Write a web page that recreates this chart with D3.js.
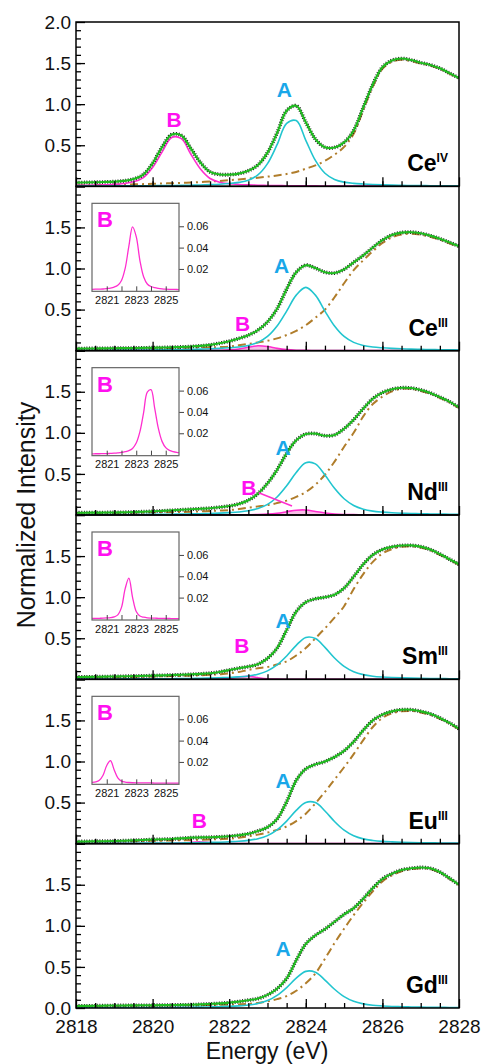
<!DOCTYPE html>
<html>
<head>
<meta charset="utf-8">
<script src="https://cdn.jsdelivr.net/npm/d3@7/dist/d3.min.js"></script>
<style>
  body { margin: 0; background: #fff; }
  svg { display: block; font-family: "Liberation Sans", Arial, sans-serif; }
</style>
</head>
<body>
<svg id="chart" width="485" height="1064"></svg>
<script>
// energy grid (eV)
const energy = [2818, 2818.25, 2818.5, 2818.75, 2819, 2819.25, 2819.5, 2819.75, 2820, 2820.25,
  2820.5, 2820.75, 2821, 2821.25, 2821.5, 2821.75, 2822, 2822.25, 2822.5, 2822.75,
  2823, 2823.25, 2823.5, 2823.75, 2824, 2824.25, 2824.5, 2824.75, 2825, 2825.25,
  2825.5, 2825.75, 2826, 2826.25, 2826.5, 2826.75, 2827, 2827.25, 2827.5, 2827.75, 2828]

const ions = ["Ce", "Ce", "Nd", "Sm", "Eu", "Gd"]
const charges = ["IV", "III", "III", "III", "III", "III"]

// measured spectra
const specCe4 = [0.045,0.047,0.050,0.053,0.057,0.066,0.088,0.140,0.280,0.480,0.630,0.620,0.460,0.290,0.175,0.145,0.142,0.155,0.190,0.260,0.410,0.650,0.920,0.980,0.780,0.575,0.475,0.473,0.535,0.680,0.960,1.240,1.450,1.532,1.555,1.537,1.505,1.478,1.437,1.378,1.318]
const specCe3 = [0.025,0.026,0.027,0.028,0.030,0.031,0.032,0.034,0.036,0.038,0.041,0.045,0.050,0.058,0.070,0.090,0.115,0.148,0.188,0.250,0.350,0.510,0.750,0.955,1.040,1.005,0.955,0.945,0.990,1.075,1.160,1.255,1.345,1.408,1.437,1.442,1.428,1.400,1.362,1.318,1.272]
const specNd3 = [0.028,0.028,0.029,0.030,0.031,0.033,0.036,0.040,0.045,0.050,0.056,0.063,0.070,0.076,0.083,0.095,0.110,0.135,0.180,0.260,0.385,0.550,0.750,0.910,0.985,0.990,0.965,0.975,1.050,1.160,1.295,1.415,1.490,1.530,1.548,1.545,1.522,1.485,1.435,1.380,1.310]
const specSm3 = [0.028,0.030,0.031,0.033,0.035,0.037,0.039,0.042,0.045,0.048,0.052,0.056,0.060,0.066,0.075,0.090,0.112,0.135,0.155,0.185,0.255,0.380,0.600,0.825,0.940,0.980,1.000,1.030,1.110,1.250,1.400,1.515,1.580,1.612,1.628,1.630,1.615,1.580,1.525,1.462,1.400]
const specEu3 = [0.025,0.027,0.029,0.030,0.032,0.036,0.040,0.045,0.050,0.053,0.057,0.064,0.073,0.076,0.078,0.083,0.090,0.102,0.120,0.155,0.200,0.300,0.510,0.770,0.910,0.965,1.000,1.055,1.130,1.240,1.380,1.500,1.570,1.610,1.630,1.630,1.610,1.580,1.530,1.470,1.400]
const specGd3 = [0.025,0.026,0.027,0.029,0.030,0.031,0.032,0.033,0.033,0.035,0.036,0.038,0.040,0.044,0.050,0.056,0.065,0.078,0.095,0.115,0.160,0.235,0.360,0.580,0.780,0.885,0.960,1.050,1.140,1.215,1.330,1.460,1.570,1.635,1.680,1.700,1.710,1.700,1.655,1.580,1.500]

// fitted peak A
const peakACe4 = [0.003,0.003,0.004,0.004,0.005,0.005,0.006,0.007,0.008,0.009,0.010,0.012,0.014,0.017,0.021,0.026,0.034,0.048,0.075,0.139,0.276,0.507,0.765,0.800,0.560,0.315,0.159,0.084,0.051,0.036,0.028,0.022,0.018,0.015,0.012,0.010,0.009,0.008,0.007,0.006,0.005]
const peakACe3 = [0.004,0.0045,0.005,0.0055,0.006,0.0065,0.007,0.008,0.009,0.010,0.012,0.014,0.016,0.019,0.023,0.028,0.035,0.045,0.064,0.101,0.173,0.300,0.482,0.676,0.770,0.676,0.482,0.300,0.173,0.101,0.064,0.045,0.035,0.028,0.023,0.019,0.016,0.014,0.012,0.010,0.009]
const peakANd3 = [0.004,0.004,0.004,0.005,0.005,0.006,0.006,0.007,0.008,0.009,0.010,0.012,0.014,0.016,0.019,0.023,0.029,0.037,0.051,0.078,0.129,0.219,0.356,0.518,0.637,0.622,0.486,0.325,0.198,0.116,0.071,0.047,0.035,0.027,0.022,0.019,0.016,0.013,0.011,0.010,0.009]
const peakASm3 = [0.003,0.003,0.004,0.004,0.004,0.005,0.005,0.006,0.006,0.007,0.008,0.009,0.011,0.013,0.015,0.019,0.023,0.030,0.041,0.062,0.103,0.175,0.284,0.414,0.510,0.497,0.389,0.260,0.158,0.093,0.057,0.038,0.028,0.022,0.018,0.015,0.012,0.011,0.009,0.008,0.007]
const peakAEu3 = [0.003,0.003,0.003,0.004,0.004,0.005,0.005,0.006,0.006,0.007,0.008,0.009,0.011,0.013,0.015,0.018,0.023,0.029,0.040,0.060,0.098,0.168,0.275,0.405,0.502,0.500,0.398,0.270,0.164,0.096,0.058,0.039,0.028,0.022,0.018,0.015,0.012,0.011,0.009,0.008,0.007]
const peakAGd3 = [0.003,0.003,0.003,0.003,0.004,0.004,0.004,0.005,0.006,0.006,0.007,0.008,0.010,0.011,0.013,0.016,0.020,0.026,0.036,0.054,0.090,0.154,0.249,0.363,0.446,0.435,0.340,0.228,0.138,0.081,0.050,0.033,0.025,0.019,0.016,0.013,0.011,0.009,0.008,0.007,0.006]

// fitted peak B (pre-edge)
const peakBCe4 = [0.010,0.012,0.015,0.019,0.024,0.034,0.055,0.104,0.230,0.420,0.595,0.580,0.390,0.210,0.095,0.050,0.032,0.023,0.018,0.014,0.011,0.009,0.008,0.007,0.006,0.005,0.004,0.004,0.004,0.003,0.003,0.003,0.002,0.002,0.002,0.002,0.002,0.002,0.002,0.002,0.002]
const peakBCe3 = [0.0004,0.0004,0.0005,0.0005,0.0006,0.0006,0.0007,0.0008,0.0009,0.0010,0.0011,0.0012,0.0016,0.0021,0.0030,0.0047,0.0092,0.0206,0.0413,0.0594,0.0503,0.0279,0.0127,0.0059,0.0035,0.0024,0.0018,0.0014,0.0011,0.0009,0.0008,0.0007,0.0006,0.0005,0.0005,0.0004,0.0004,0.0004,0.0003,0.0003,0.0003]
const peakBNd3 = [0.0004,0.0004,0.0005,0.0005,0.0005,0.0006,0.0006,0.0007,0.0007,0.0008,0.0008,0.0009,0.0009,0.0011,0.0013,0.0016,0.0020,0.0027,0.0037,0.0058,0.0108,0.0215,0.0394,0.0585,0.0609,0.0436,0.0245,0.0124,0.0065,0.0040,0.0028,0.0021,0.0017,0.0014,0.0011,0.0010,0.0009,0.0008,0.0007,0.0006,0.0006]
const peakBSm3 = [0.0002,0.0002,0.0002,0.0002,0.0003,0.0003,0.0003,0.0003,0.0004,0.0005,0.0006,0.0007,0.0009,0.0012,0.0019,0.0038,0.0108,0.0284,0.0382,0.0203,0.0069,0.0027,0.0016,0.0010,0.0008,0.0007,0.0006,0.0005,0.0004,0.0004,0.0003,0.0003,0.0003,0.0002,0.0002,0.0002,0.0002,0.0002,0.0002,0.0002,0.0002]
const peakBEu3 = [0.0002,0.0002,0.0003,0.0003,0.0004,0.0004,0.0005,0.0006,0.0008,0.0013,0.0028,0.0075,0.0167,0.0212,0.0127,0.0050,0.0020,0.0011,0.0007,0.0005,0.0004,0.0004,0.0003,0.0003,0.0003,0.0002,0.0002,0.0002,0.0002,0.0002,0.0002,0.0002,0.0002,0.0002,0.0002,0.0002,0.0002,0.0002,0.0002,0.0002,0.0002]

// arctangent edge step
const stepCe4 = [0.010,0.012,0.014,0.016,0.018,0.021,0.024,0.027,0.030,0.034,0.038,0.042,0.046,0.052,0.058,0.066,0.075,0.084,0.094,0.105,0.118,0.132,0.150,0.175,0.215,0.255,0.310,0.385,0.480,0.640,0.930,1.215,1.430,1.515,1.540,1.525,1.495,1.470,1.430,1.372,1.313]
const stepCe3 = [0.018,0.019,0.020,0.021,0.022,0.023,0.024,0.026,0.028,0.029,0.031,0.033,0.035,0.037,0.040,0.044,0.050,0.065,0.082,0.100,0.120,0.150,0.190,0.240,0.310,0.400,0.500,0.650,0.820,0.980,1.100,1.210,1.310,1.380,1.414,1.423,1.412,1.386,1.350,1.307,1.263]
const stepNd3 = [0.020,0.021,0.022,0.023,0.024,0.025,0.026,0.028,0.030,0.032,0.034,0.037,0.040,0.044,0.048,0.054,0.060,0.072,0.090,0.105,0.120,0.145,0.175,0.220,0.280,0.370,0.490,0.650,0.830,1.000,1.200,1.350,1.440,1.505,1.535,1.535,1.510,1.475,1.425,1.372,1.302]
const stepSm3 = [0.020,0.021,0.022,0.023,0.025,0.027,0.029,0.032,0.035,0.037,0.040,0.042,0.045,0.050,0.055,0.062,0.072,0.090,0.115,0.135,0.150,0.180,0.220,0.290,0.380,0.500,0.620,0.750,0.890,1.100,1.280,1.430,1.530,1.585,1.612,1.618,1.605,1.570,1.515,1.454,1.393]
const stepEu3 = [0.020,0.021,0.022,0.023,0.025,0.027,0.029,0.032,0.035,0.037,0.040,0.042,0.045,0.048,0.051,0.055,0.060,0.073,0.090,0.110,0.135,0.168,0.210,0.275,0.365,0.490,0.630,0.780,0.930,1.090,1.260,1.420,1.530,1.585,1.610,1.615,1.597,1.568,1.520,1.462,1.394]
const stepGd3 = [0.020,0.021,0.022,0.023,0.024,0.025,0.026,0.027,0.028,0.029,0.030,0.032,0.034,0.035,0.036,0.038,0.040,0.044,0.050,0.062,0.080,0.108,0.145,0.210,0.300,0.420,0.600,0.790,0.965,1.130,1.280,1.420,1.540,1.615,1.665,1.688,1.700,1.691,1.647,1.573,1.494]

// label anchors (energy, intensity)
const labelA = [[2823.44, 1.18], [2823.37, 1.04], [2823.41, 0.82], [2823.41, 0.72], [2823.41, 0.77], [2823.41, 0.73]]
const labelB = [[2820.56, 0.82], [2822.35, 0.33], [2822.51, 0.34], [2822.33, 0.41], [2821.22, 0.28], null]
const pointerNd = [[2822.77, 0.27], [2823.64, 0.11]]

const spectra = [specCe4, specCe3, specNd3, specSm3, specEu3, specGd3]
const peaksA = [peakACe4, peakACe3, peakANd3, peakASm3, peakAEu3, peakAGd3]
const peaksB = [peakBCe4, peakBCe3, peakBNd3, peakBSm3, peakBEu3, null]
const steps = [stepCe4, stepCe3, stepNd3, stepSm3, stepEu3, stepGd3]

const plotLeft = 76, plotRight = 459, plotTop = 22, plotBottom = 1008
const ph = (plotBottom - plotTop) / 6
const green = "#1fbb1f", cyan = "#22c5cf", magenta = "#ff2ecf", brown = "#b07d2b"
const blueLabel = "#19a7e9", pinkLabel = "#ff10f0"

const svg = d3.select("#chart")
const x = d3.scaleLinear().domain([2818, 2828]).range([plotLeft, plotRight])

const styleAxis = (g, size) => {
  g.select(".domain").remove()
  g.selectAll("line").attr("stroke", "#000").attr("stroke-width", 1.3)
  g.selectAll("text").attr("font-family", "Liberation Sans, Arial, sans-serif")
    .attr("font-size", size).attr("fill", "#111")
}

spectra.forEach((spec, i) => {
  const yTop = plotTop + i * ph
  const yBot = yTop + ph
  const y = d3.scaleLinear().domain([0, 2]).range([yBot, yTop])
  const g = svg.append("g")

  svg.append("clipPath").attr("id", "clip" + i)
    .append("rect").attr("x", plotLeft).attr("y", yTop).attr("width", plotRight - plotLeft).attr("height", ph)
  const plot = g.append("g").attr("clip-path", `url(#clip${i})`)

  const line = d3.line().x((d, j) => x(energy[j])).y(d => y(d)).curve(d3.curveCatmullRom.alpha(0.5))
  const area = d3.area().x((d, j) => x(energy[j])).y0(y(0)).y1(d => y(d)).curve(d3.curveCatmullRom.alpha(0.5))

  const pb = peaksB[i]
  if (pb && i > 0) {
    plot.append("path").attr("d", area(pb)).attr("fill", "#f9bde8")
  }
  plot.append("path").attr("d", line(steps[i]))
    .attr("fill", "none").attr("stroke", brown).attr("stroke-width", 2)
    .attr("stroke-dasharray", "8,4,2,4")
  if (pb) {
    plot.append("path").attr("d", line(pb))
      .attr("fill", "none").attr("stroke", magenta).attr("stroke-width", 1.6)
  }
  plot.append("path").attr("d", line(peaksA[i]))
    .attr("fill", "none").attr("stroke", cyan).attr("stroke-width", 1.6)
  // measured points (dense dots) and fit
  plot.append("path").attr("d", line(spec))
    .attr("fill", "none").attr("stroke", "#222").attr("stroke-width", 3.8)
    .attr("stroke-dasharray", "1,1.6")
  plot.append("path").attr("d", line(spec))
    .attr("fill", "none").attr("stroke", green).attr("stroke-width", 2.1)

  // x ticks (inside)
  g.append("g").attr("transform", `translate(0,${yBot})`)
    .call(d3.axisBottom(x).tickValues(d3.range(2818.5, 2828, 0.5)).tickSizeInner(-5).tickSizeOuter(0).tickFormat(""))
    .call(a => styleAxis(a, 19))
  g.append("g").attr("transform", `translate(0,${yBot})`)
    .call(d3.axisBottom(x).tickValues([2818, 2820, 2822, 2824, 2826, 2828]).tickSizeInner(-9).tickSizeOuter(0)
      .tickPadding(12).tickFormat(d => i === 5 ? d : ""))
    .call(a => styleAxis(a, 19))

  // y ticks (inside)
  const shown = i === 0 ? [0.5, 1, 1.5, 2] : i === 5 ? [0, 0.5, 1, 1.5] : [0.5, 1, 1.5]
  g.append("g").attr("transform", `translate(${plotLeft},0)`)
    .call(d3.axisLeft(y).tickValues(d3.range(0.1, 2, 0.1)).tickSizeInner(-5).tickSizeOuter(0).tickFormat(""))
    .call(a => styleAxis(a, 19))
  g.append("g").attr("transform", `translate(${plotLeft},0)`)
    .call(d3.axisLeft(y).tickValues([0, 0.5, 1, 1.5, 2]).tickSizeInner(-9).tickSizeOuter(0).tickPadding(5)
      .tickFormat(d => shown.includes(d) ? d3.format(".1f")(d) : ""))
    .call(a => styleAxis(a, 19))

  // frame
  g.append("rect").attr("x", plotLeft).attr("y", yTop).attr("width", plotRight - plotLeft).attr("height", ph)
    .attr("fill", "none").attr("stroke", "#000").attr("stroke-width", 1.5)

  // labels
  const [ea, va] = labelA[i]
  g.append("text").attr("x", x(ea)).attr("y", y(va)).attr("dy", "0.36em")
    .attr("text-anchor", "middle").attr("font-weight", "bold").attr("font-size", 21)
    .attr("fill", blueLabel).text("A")
  if (labelB[i]) {
    const [eb, vb] = labelB[i]
    g.append("text").attr("x", x(eb)).attr("y", y(vb)).attr("dy", "0.36em")
      .attr("text-anchor", "middle").attr("font-weight", "bold").attr("font-size", 21)
      .attr("fill", pinkLabel).text("B")
  }
  if (i === 2) {
    g.append("line")
      .attr("x1", x(pointerNd[0][0])).attr("y1", y(pointerNd[0][1]))
      .attr("x2", x(pointerNd[1][0])).attr("y2", y(pointerNd[1][1]))
      .attr("stroke", magenta).attr("stroke-width", 1.6)
  }
  const ion = g.append("text").attr("x", x(2827.71)).attr("y", yBot - 15)
    .attr("text-anchor", "end").attr("font-weight", "bold").attr("font-size", 23).attr("fill", "#000")
  ion.append("tspan").text(ions[i])
  ion.append("tspan").attr("font-size", 12).attr("dy", -9).text(charges[i])

  // inset with the B peak
  if (pb && i > 0) {
    const bx0 = 92, bx1 = 179, by0 = yTop + 17, by1 = by0 + 88
    const xi = d3.scaleLinear().domain([2820, 2825.9]).range([bx0, bx1])
    const yi = d3.scaleLinear().domain([-0.001, 0.0815]).range([by1, by0])
    const ins = g.append("g")
    ins.append("rect").attr("x", bx0).attr("y", by0).attr("width", bx1 - bx0).attr("height", by1 - by0)
      .attr("fill", "#fff")
    svg.append("clipPath").attr("id", "iclip" + i)
      .append("rect").attr("x", bx0).attr("y", by0).attr("width", bx1 - bx0).attr("height", by1 - by0)
    const iline = d3.line().x((d, j) => xi(energy[j])).y(d => yi(d)).curve(d3.curveCatmullRom.alpha(0.5))
    ins.append("path").attr("clip-path", `url(#iclip${i})`).attr("d", iline(pb))
      .attr("fill", "none").attr("stroke", magenta).attr("stroke-width", 1.3)
    ins.append("g").attr("transform", `translate(0,${by1})`)
      .call(d3.axisBottom(xi).tickValues([2821, 2822, 2823, 2824, 2825]).tickSizeInner(-5).tickSizeOuter(0)
        .tickPadding(5).tickFormat(d => d % 2 === 1 ? d : ""))
      .call(a => styleAxis(a, 11))
    ins.append("g").attr("transform", `translate(${bx1},0)`)
      .call(d3.axisRight(yi).tickValues([0.02, 0.04, 0.06]).tickSizeInner(5).tickSizeOuter(0)
        .tickPadding(3).tickFormat(d3.format(".2f")))
      .call(a => styleAxis(a, 11))
    ins.selectAll("line").attr("stroke", "#444").attr("stroke-width", 1)
    ins.append("rect").attr("x", bx0).attr("y", by0).attr("width", bx1 - bx0).attr("height", by1 - by0)
      .attr("fill", "none").attr("stroke", "#666").attr("stroke-width", 1.2)
    ins.append("text").attr("x", bx0 + 5).attr("y", by0 + 24)
      .attr("font-weight", "bold").attr("font-size", 22).attr("fill", pinkLabel).text("B")
  }
})

// axis titles
svg.append("text").attr("x", (plotLeft + plotRight) / 2 - 0.5).attr("y", 1059)
  .attr("text-anchor", "middle").attr("font-size", 23).attr("fill", "#111").text("Energy (eV)")
svg.append("text").attr("transform", `translate(35,${(plotTop + plotBottom) / 2}) rotate(-90)`)
  .attr("text-anchor", "middle").attr("font-size", 25).attr("fill", "#111").text("Normalized Intensity")
</script>
</body>
</html>
